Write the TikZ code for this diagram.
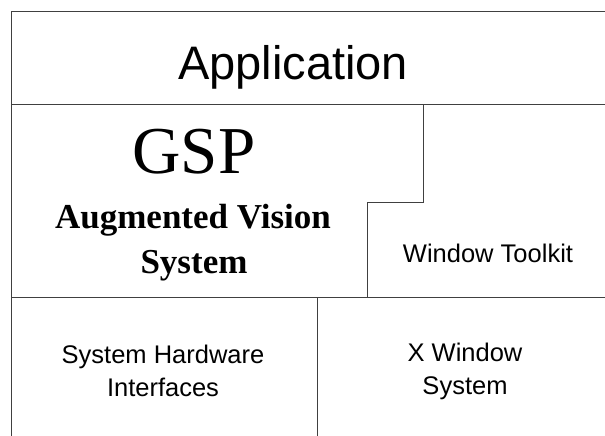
\documentclass[tikz,border=0pt]{standalone}
\usepackage{fontspec}
\setmainfont{Liberation Serif}
\setsansfont{Liberation Sans}
\usetikzlibrary{positioning}

\begin{document}
\begin{tikzpicture}[x=1pt,y=-1pt,
    layer/.style={draw=black!75,line width=0.9pt},
    label/.style={font=\sffamily\fontsize{25.5}{33}\selectfont,align=center,inner sep=0pt},
    title/.style={font=\sffamily\fontsize{47}{50}\selectfont,inner sep=0pt},
    gsp/.style={font=\rmfamily\fontsize{67}{70}\selectfont,inner sep=0pt},
    avs/.style={font=\rmfamily\bfseries\fontsize{35}{46}\selectfont,inner sep=0pt}]
\useasboundingbox (0,0) rectangle (605,436);

% layer borders
\draw[layer] (605,11) -- (11,11) -- (11,436);
\draw[layer] (11,104) -- (605,104);
\draw[layer] (423,104) -- (423,202) -- (367,202) -- (367,297);
\draw[layer] (11,297) -- (605,297);
\draw[layer] (317,297) -- (317,436);

% layer names
\node[title,anchor=base] (app) at (293,80) {Application};
\node[gsp,anchor=base] (gsp) at (194,173) {GSP};
\node[avs,anchor=base] (avs) at (193,228) {Augmented Vision};
\node[avs,anchor=base] (avs2) at (194,273) {System};
\node[label,anchor=base] (wtk) at (488,262) {Window Toolkit};
\node[label] (shi) at (163,371) {System Hardware\\Interfaces};
\node[label] (xws) at (465,371) {X Window\\System};
\end{tikzpicture}
\end{document}
